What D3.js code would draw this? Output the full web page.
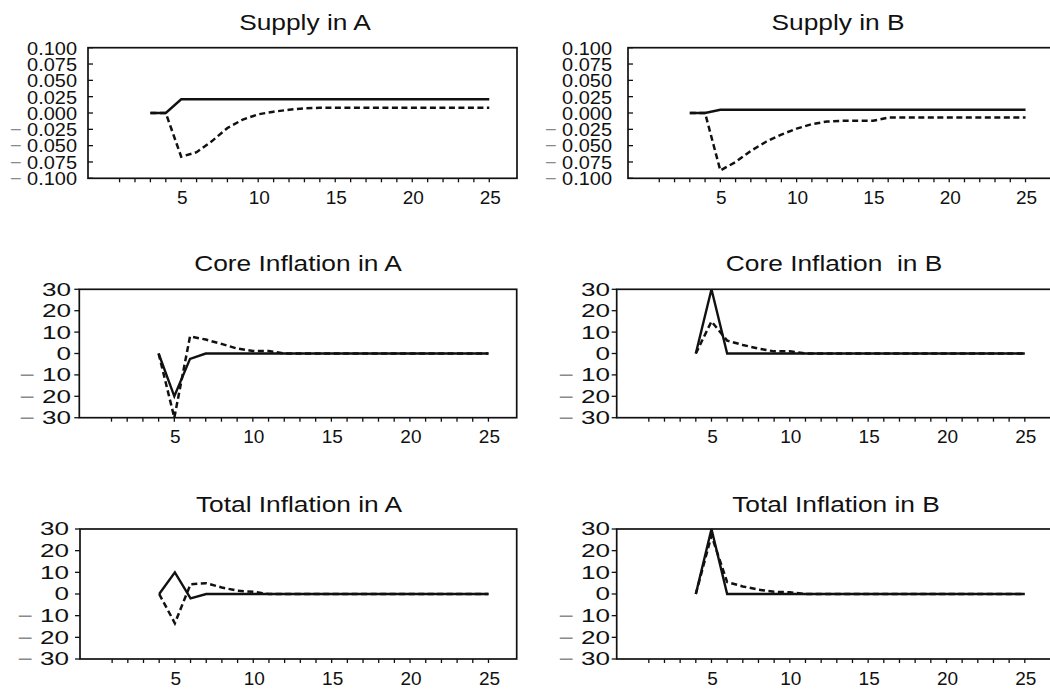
<!DOCTYPE html>
<html>
<head>
<meta charset="utf-8">
<script src="https://cdn.jsdelivr.net/npm/d3@7"></script>
<style>
  html, body { margin: 0; padding: 0; background: #fff; overflow: hidden; }
  svg { display: block; }
  text { font-family: "Liberation Sans", Arial, sans-serif; fill: #111; }
</style>
</head>
<body>
<svg id="chart" width="1050" height="692"></svg>
<script>
// ---------------- DATA ----------------
const periodsSupply = [3,4,5,6,7,8,9,10,11,12,13,14,15,16,17,18,19,20,21,22,23,24,25];
const periodsInflation = [4,5,6,7,8,9,10,11,12,13,14,15,16,17,18,19,20,21,22,23,24,25];

const supplyASolid  = [0,0,0.021,0.021,0.021,0.021,0.021,0.021,0.021,0.021,0.021,0.021,0.021,0.021,0.021,0.021,0.021,0.021,0.021,0.021,0.021,0.021,0.021];
const supplyADashed = [0,0,-0.067,-0.060,-0.043,-0.023,-0.010,-0.002,0.002,0.005,0.007,0.008,0.008,0.008,0.008,0.008,0.008,0.008,0.008,0.008,0.008,0.008,0.008];
const supplyBSolid  = [0,0,0.005,0.005,0.005,0.005,0.005,0.005,0.005,0.005,0.005,0.005,0.005,0.005,0.005,0.005,0.005,0.005,0.005,0.005,0.005,0.005,0.005];
const supplyBDashed = [0,0,-0.088,-0.075,-0.058,-0.044,-0.033,-0.024,-0.017,-0.013,-0.012,-0.012,-0.012,-0.007,-0.007,-0.007,-0.007,-0.007,-0.007,-0.007,-0.007,-0.007,-0.007];

const coreASolid  = [0,-20,-2.5,0,0,0,0,0,0,0,0,0,0,0,0,0,0,0,0,0,0,0];
const coreADashed = [0,-30,8,6.5,4.5,2.3,1.2,1.2,0,0,0,0,0,0,0,0,0,0,0,0,0,0];
const coreBSolid  = [0,30,0,0,0,0,0,0,0,0,0,0,0,0,0,0,0,0,0,0,0,0];
const coreBDashed = [0,15,6,4,2.3,1,1,0,0,0,0,0,0,0,0,0,0,0,0,0,0,0];

const totalASolid  = [0,10,-2,0,0,0,0,0,0,0,0,0,0,0,0,0,0,0,0,0,0,0];
const totalADashed = [0,-13.5,4.5,5,3,1.5,1,0,0,0,0,0,0,0,0,0,0,0,0,0,0,0];
const totalBSolid  = [0,30,0,0,0,0,0,0,0,0,0,0,0,0,0,0,0,0,0,0,0,0];
const totalBDashed = [0,27,5.5,3.5,2,1,0.8,0,0,0,0,0,0,0,0,0,0,0,0,0,0,0];

const titles = ["Supply in A", "Supply in B", "Core Inflation in A", "Core Inflation  in B", "Total Inflation in A", "Total Inflation in B"];
const supplyTicks = [0.100, 0.075, 0.050, 0.025, 0.000, -0.025, -0.050, -0.075, -0.100];
const inflationTicks = [30, 20, 10, 0, -10, -20, -30];
const xMajorTicks = [5, 10, 15, 20, 25];
const xMinorTicks = [1,2,3,4,5,6,7,8,9,10,11,12,13,14,15,16,17,18,19,20,21,22,23,24,25];

// ---------------- LAYOUT ----------------
const panels = [
  { title: titles[0], x: periodsSupply, solid: supplyASolid, dashed: supplyADashed, ticks: supplyTicks, dom: [-0.1, 0.1], fmt: "supply",
    box: [88, 47.7, 517, 178.3], labelRight: 77, tickIn: true, titleX: 305, titleY: 29.5, labelScale: 1.05, labelSize: 19 },
  { title: titles[1], x: periodsSupply, solid: supplyBSolid, dashed: supplyBDashed, ticks: supplyTicks, dom: [-0.1, 0.1], fmt: "supply",
    box: [628, 47.7, 1053, 178.3], labelRight: 612, tickIn: true, titleX: 838, titleY: 29.5, labelScale: 1.05, labelSize: 19 },
  { title: titles[2], x: periodsInflation, solid: coreASolid, dashed: coreADashed, ticks: inflationTicks, dom: [-30, 30], fmt: "infl",
    box: [79.3, 289.3, 516.7, 417.7], labelRight: 71, tickIn: false, titleX: 298, titleY: 271, labelScale: 1.45, labelSize: 18 },
  { title: titles[3], x: periodsInflation, solid: coreBSolid, dashed: coreBDashed, ticks: inflationTicks, dom: [-30, 30], fmt: "infl",
    box: [616.7, 289.3, 1053, 417.7], labelRight: 610, tickIn: false, titleX: 834, titleY: 271, labelScale: 1.45, labelSize: 18 },
  { title: titles[4], x: periodsInflation, solid: totalASolid, dashed: totalADashed, ticks: inflationTicks, dom: [-30, 30], fmt: "infl",
    box: [80, 529, 516.7, 659], labelRight: 69, tickIn: false, titleX: 299, titleY: 512, labelScale: 1.45, labelSize: 18 },
  { title: titles[5], x: periodsInflation, solid: totalBSolid, dashed: totalBDashed, ticks: inflationTicks, dom: [-30, 30], fmt: "infl",
    box: [616.7, 529, 1053, 659], labelRight: 610, tickIn: false, titleX: 836, titleY: 512, labelScale: 1.45, labelSize: 18 }
];

const svg = d3.select("#chart");
const xDomain = [-1.05, 26.8];

panels.forEach(p => {
  const [x0, y0, x1, y1] = p.box;
  const xs = d3.scaleLinear().domain(xDomain).range([x0, x1]);
  const ys = d3.scaleLinear().domain(p.dom).range([y1, y0]);
  const g = svg.append("g");

  // title
  g.append("text")
    .attr("transform", `translate(${p.titleX},${p.titleY}) scale(1.17,1)`)
    .attr("text-anchor", "middle")
    .style("font-size", "22.5px")
    .style("white-space", "pre")
    .text(p.title);

  // y ticks + labels
  const yTickG = g.append("g");
  p.ticks.forEach(t => {
    const y = ys(t);
    yTickG.append("line")
      .attr("x1", p.tickIn ? x0 : x0 - 5).attr("x2", p.tickIn ? x0 + 5 : x0)
      .attr("y1", y).attr("y2", y)
      .attr("stroke", "#111").attr("stroke-width", 1.3);
    const txt = yTickG.append("text")
      .attr("transform", `translate(${p.labelRight},${y}) scale(${p.labelScale},1)`)
      .attr("text-anchor", "end")
      .attr("dy", "0.36em")
      .style("font-size", p.labelSize + "px");
    const abs = Math.abs(t);
    const s = p.fmt === "supply" ? d3.format(".3f")(abs) : d3.format("d")(abs);
    if (t < 0) {
      txt.append("tspan").style("fill", "#8a8a8a").text("\u2212 ");
    }
    txt.append("tspan").text(s);
  });

  // x axis minor ticks
  xMinorTicks.forEach(t => {
    g.append("line")
      .attr("x1", xs(t)).attr("x2", xs(t))
      .attr("y1", y1).attr("y2", y1 + 4)
      .attr("stroke", "#111").attr("stroke-width", 1.3);
  });
  xMajorTicks.forEach(t => {
    g.append("text")
      .attr("x", xs(t) + 1).attr("y", y1 + 25.5)
      .attr("text-anchor", "middle")
      .style("font-size", "19px")
      .text(t);
  });

  // frame
  g.append("rect")
    .attr("x", x0).attr("y", y0)
    .attr("width", x1 - x0).attr("height", y1 - y0)
    .attr("fill", "none").attr("stroke", "#111").attr("stroke-width", 1.7);

  const line = d3.line().x((d, i) => xs(p.x[i])).y(d => ys(d));

  g.append("path")
    .datum(p.dashed)
    .attr("d", line)
    .attr("fill", "none")
    .attr("stroke", "#111")
    .attr("stroke-width", 2.5)
    .attr("stroke-dasharray", "6,3.5");

  g.append("path")
    .datum(p.solid)
    .attr("d", line)
    .attr("fill", "none")
    .attr("stroke", "#111")
    .attr("stroke-width", 2.4)
    .attr("stroke-linejoin", "miter");
});
</script>
</body>
</html>
